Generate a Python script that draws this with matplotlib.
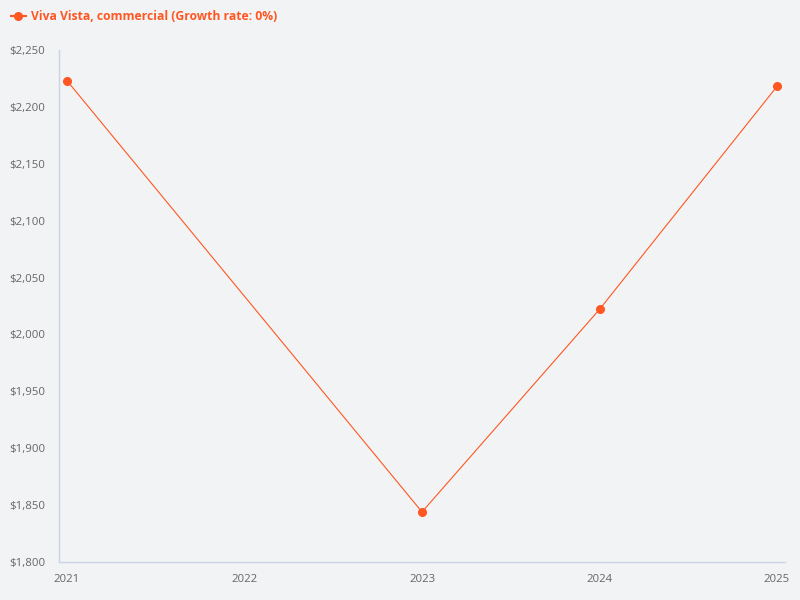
import matplotlib
matplotlib.use("Agg")
import matplotlib.pyplot as plt
from matplotlib.ticker import FuncFormatter, MultipleLocator
from matplotlib.lines import Line2D

years = [2021, 2022, 2023, 2024, 2025]
values = [2223, None, 1844, 2022, 2218]
series_name = "Viva Vista, commercial (Growth rate: 0%)"

plt.rcParams['font.family'] = ['Open Sans', 'DejaVu Sans']

BG = "#F2F3F5"
LINE = "#FF5722"
AXIS = "#C9D5E6"
TICK = "#666666"

fig = plt.figure(figsize=(8, 6), dpi=100, facecolor=BG)
ax = fig.add_axes([59/800, 38/600, (785-59)/800, (562-50)/600])
ax.set_facecolor(BG)

xs = [x for x, v in zip(years, values) if v is not None]
ys = [v for v in values if v is not None]
ax.plot(xs, ys, color=LINE, linewidth=0.8, marker='o', markersize=5.5,
        markerfacecolor=LINE, markeredgecolor=LINE, zorder=3)

ax.set_xlim(2021 - 8/177.5, 2025 + 8/177.5)
ax.set_ylim(1800, 2250)
ax.set_xticks(years)
ax.set_xticklabels([str(y) for y in years])
ax.yaxis.set_major_locator(MultipleLocator(50))
ax.yaxis.set_major_formatter(FuncFormatter(lambda v, p: f"${v:,.0f}"))

for s in ['top', 'right']:
    ax.spines[s].set_visible(False)
for s in ['left', 'bottom']:
    ax.spines[s].set_color(AXIS)
    ax.spines[s].set_linewidth(1)

ax.tick_params(axis='both', length=0, colors=TICK, labelsize=8.2)
ax.tick_params(axis='x', pad=9)
ax.tick_params(axis='y', pad=10)

handle = Line2D([0], [0], color=LINE, linewidth=1.5, marker='o', markersize=5.5,
                markerfacecolor=LINE, markeredgecolor=LINE)
leg = fig.legend([handle], [series_name], loc='center left',
                 bbox_to_anchor=(7/800, 1 - 17/600), frameon=False,
                 handlelength=1.25, handletextpad=0.45, borderaxespad=0.0,
                 borderpad=0.3,
                 prop={'weight': 'bold', 'size': 8.7})
for t in leg.get_texts():
    t.set_color(LINE)

fig.savefig("out.png", dpi=100, facecolor=BG)
